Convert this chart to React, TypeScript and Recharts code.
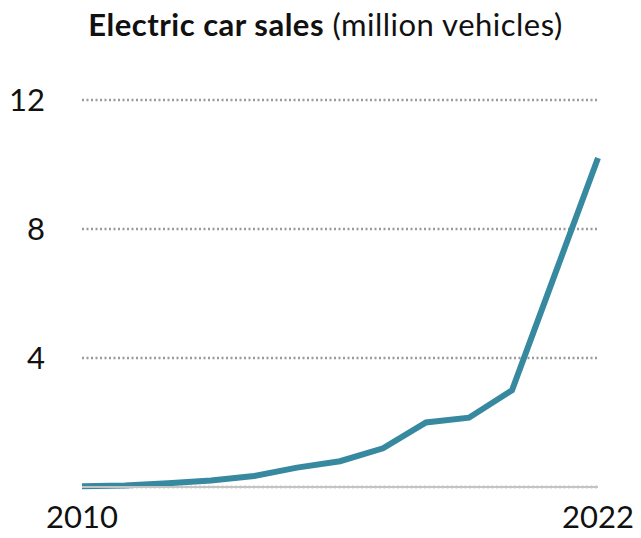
import { LineChart, Line, XAxis, YAxis, CartesianGrid } from 'recharts';

const years = [2010, 2011, 2012, 2013, 2014, 2015, 2016, 2017, 2018, 2019, 2020, 2021, 2022];
const sales = [0.02, 0.05, 0.12, 0.2, 0.34, 0.6, 0.8, 1.2, 2.0, 2.15, 3.0, 6.6, 10.2];
const yTicks = [4, 8, 12];
const xTicks = [2010, 2022];

const data = years.map((year, i) => ({ year, sales: sales[i] }));

const FONT = 'Lato, "Open Sans", sans-serif';

export default function App() {
  return (
    <div style={{ position: 'relative', width: 641, height: 538, background: '#fff', fontFamily: FONT }}>
      <style>{'body { margin: 0; }'}</style>
      <div
        style={{
          position: 'absolute',
          top: 5,
          left: 0,
          width: 641,
          textAlign: 'center',
          fontSize: 31,
          letterSpacing: 0.5,
          color: '#111',
          paddingLeft: 10,
          boxSizing: 'border-box',
        }}
      >
        <span style={{ fontWeight: 700 }}>Electric car sales</span> (million vehicles)
      </div>
      <LineChart width={641} height={538} data={data} margin={{ top: 100, right: 43, left: 0, bottom: 0 }}>
        <CartesianGrid
          horizontal
          vertical={false}
          stroke="#9a9a9a"
          strokeWidth={2.5}
          strokeDasharray="2 2.5"
        />
        <XAxis
          dataKey="year"
          type="number"
          domain={[2010, 2022]}
          ticks={xTicks}
          height={51}
          tickLine={false}
          stroke="#c4c4c4"
          strokeWidth={2}
          tick={{ fill: '#111', fontSize: 31, fontFamily: FONT }}
          tickMargin={13}
        />
        <YAxis
          domain={[0, 12]}
          ticks={yTicks}
          width={82}
          axisLine={false}
          tickLine={false}
          tickSize={0}
          tickMargin={37}
          tick={{ fill: '#111', fontSize: 31, fontFamily: FONT }}
        />
        <Line
          type="linear"
          dataKey="sales"
          stroke="#3789a0"
          strokeWidth={6}
          dot={false}
          isAnimationActive={false}
        />
      </LineChart>
    </div>
  );
}
